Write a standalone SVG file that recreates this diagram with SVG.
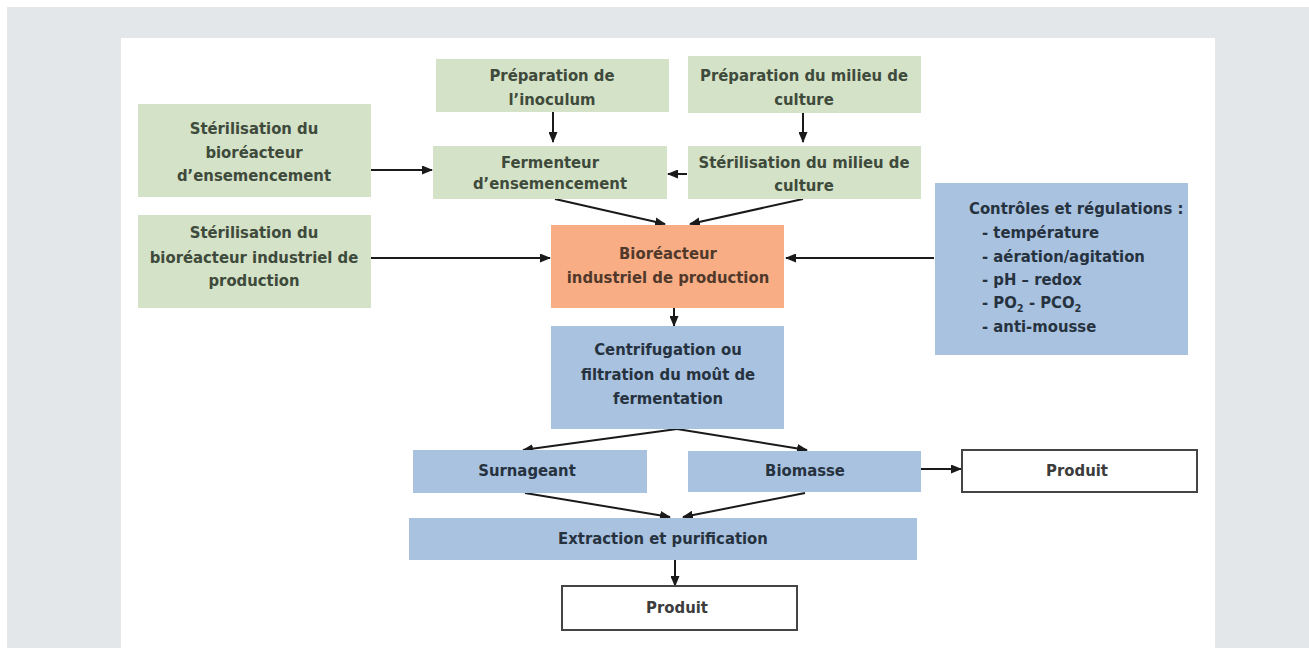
<svg xmlns="http://www.w3.org/2000/svg" width="1309" height="648" viewBox="0 0 1309 648">
<defs>
<style>
text{font-family:"DejaVu Sans Condensed","Liberation Sans",sans-serif;font-size:16.5px;font-weight:bold;text-anchor:middle}
.g{fill:#d4e2c7}
.o{fill:#f8ad85}
.b{fill:#a8c2e0}
.w{fill:#fff;stroke:#444;stroke-width:2}
.tg{fill:#3e4a3b}
.to{fill:#50392b}
.tb{fill:#27323f}
.tw{fill:#3c3c3c}
.c{stroke:#1a1a1a;stroke-width:2;fill:none;marker-end:url(#ah)}
</style>
<marker id="ah" markerUnits="userSpaceOnUse" markerWidth="11" markerHeight="9" refX="10" refY="4.5" orient="auto">
<path d="M0,0 L11,4.5 L0,9 z" fill="#1a1a1a"/>
</marker>
</defs>
<rect x="0" y="0" width="1309" height="648" fill="#ffffff"/>
<rect x="7" y="7" width="1302" height="641" fill="#e3e7ea"/>
<rect x="121" y="38" width="1094" height="610" fill="#ffffff"/>

<g id="connectors">
<line class="c" x1="371" y1="170" x2="432" y2="170"/>
<line class="c" x1="371" y1="258" x2="550" y2="258"/>
<line class="c" x1="934" y1="258" x2="786" y2="258"/>
<line class="c" x1="553" y1="112" x2="553" y2="142"/>
<line class="c" x1="803" y1="113" x2="803" y2="142"/>
<line class="c" x1="687" y1="174" x2="668" y2="174"/>
<line class="c" x1="555" y1="199" x2="665" y2="224"/>
<line class="c" x1="803" y1="199" x2="690" y2="224"/>
<line class="c" x1="674" y1="308" x2="674" y2="326"/>
<polyline class="c" points="677,429 523,450"/>
<polyline class="c" points="677,429 807,450"/>
<line class="c" x1="525" y1="493" x2="670" y2="517"/>
<line class="c" x1="805" y1="493" x2="683" y2="517"/>
<line class="c" x1="921" y1="469" x2="961" y2="469"/>
<line class="c" x1="675" y1="560" x2="675" y2="586"/>
</g>

<g id="n1"><rect class="g" x="138" y="104" width="233" height="93"/>
<text class="tg" x="254" y="134">Stérilisation du</text>
<text class="tg" x="254" y="158">bioréacteur</text>
<text class="tg" x="254" y="181">d’ensemencement</text></g>

<g id="n2"><rect class="g" x="138" y="215" width="233" height="93"/>
<text class="tg" x="254" y="238">Stérilisation du</text>
<text class="tg" x="254" y="263">bioréacteur industriel de</text>
<text class="tg" x="254" y="286">production</text></g>

<g id="n3"><rect class="g" x="436" y="59" width="233" height="53"/>
<text class="tg" x="552" y="81">Préparation de</text>
<text class="tg" x="552" y="105">l’inoculum</text></g>

<g id="n4"><rect class="g" x="688" y="56" width="233" height="57"/>
<text class="tg" x="804" y="81">Préparation du milieu de</text>
<text class="tg" x="804" y="105">culture</text></g>

<g id="n5"><rect class="g" x="433" y="146" width="234" height="53"/>
<text class="tg" x="550" y="168">Fermenteur</text>
<text class="tg" x="550" y="189">d’ensemencement</text></g>

<g id="n6"><rect class="g" x="688" y="146" width="233" height="53"/>
<text class="tg" x="804" y="168">Stérilisation du milieu de</text>
<text class="tg" x="804" y="191">culture</text></g>

<g id="n7"><rect class="o" x="551" y="225" width="233" height="83"/>
<text class="to" x="668" y="259">Bioréacteur</text>
<text class="to" x="668" y="283">industriel de production</text></g>

<g id="n8"><rect class="b" x="935" y="183" width="253" height="172"/>
<text class="tb" x="969" y="214" style="text-anchor:start">Contrôles et régulations :</text>
<text class="tb" x="982" y="238" style="text-anchor:start">- température</text>
<text class="tb" x="982" y="262" style="text-anchor:start">- aération/agitation</text>
<text class="tb" x="982" y="285" style="text-anchor:start">- pH – redox</text>
<text class="tb" x="982" y="308" style="text-anchor:start">- PO<tspan font-size="11" dy="4">2</tspan><tspan dy="-4"> - PCO</tspan><tspan font-size="11" dy="4">2</tspan></text>
<text class="tb" x="982" y="332" style="text-anchor:start">- anti-mousse</text></g>

<g id="n9"><rect class="b" x="551" y="326" width="233" height="103"/>
<text class="tb" x="668" y="355">Centrifugation ou</text>
<text class="tb" x="668" y="380">filtration du moût de</text>
<text class="tb" x="668" y="404">fermentation</text></g>

<g id="n10"><rect class="b" x="413" y="450" width="234" height="43"/>
<text class="tb" x="527" y="476">Surnageant</text></g>

<g id="n11"><rect class="b" x="688" y="451" width="233" height="41"/>
<text class="tb" x="805" y="476">Biomasse</text></g>

<g id="n12"><rect class="w" x="962" y="450" width="235" height="42"/>
<text class="tw" x="1077" y="476">Produit</text></g>

<g id="n13"><rect class="b" x="409" y="518" width="508" height="42"/>
<text class="tb" x="663" y="544">Extraction et purification</text></g>

<g id="n14"><rect class="w" x="562" y="586" width="235" height="44"/>
<text class="tw" x="677" y="613">Produit</text></g>
</svg>
